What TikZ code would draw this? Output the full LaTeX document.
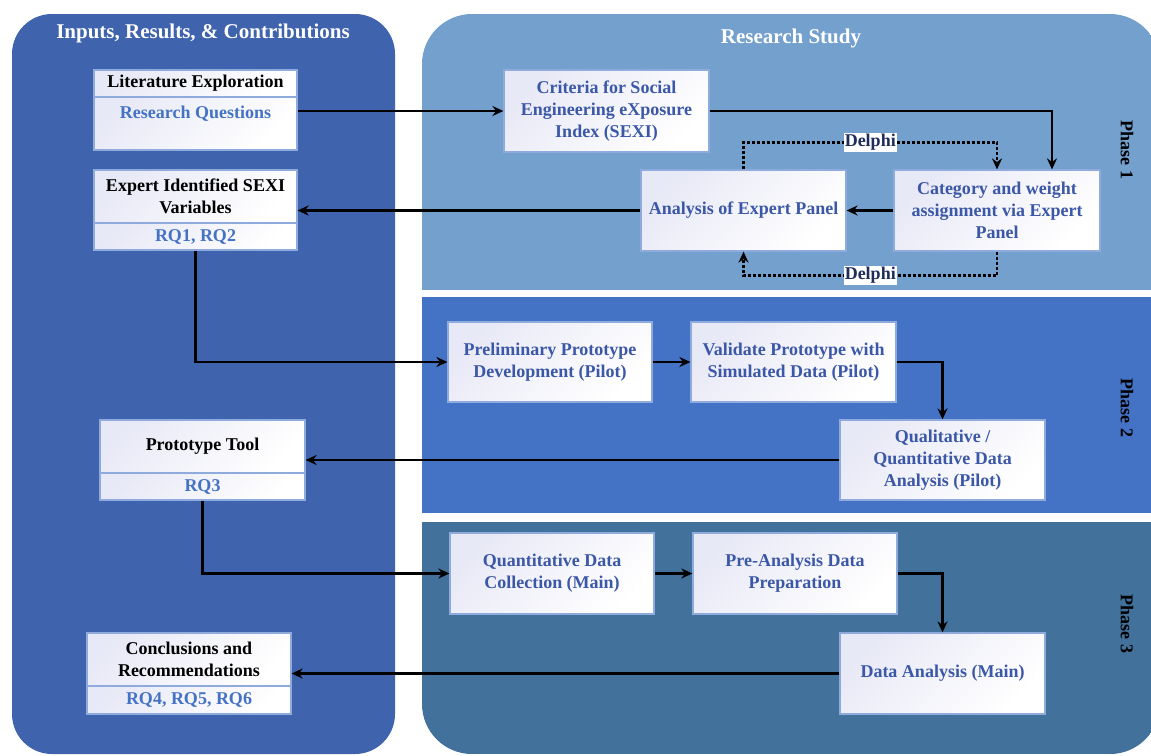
\documentclass[tikz,border=0pt]{standalone}
\usepackage{fontspec}
\setmainfont{Liberation Serif}
\usetikzlibrary{arrows.meta}
\definecolor{inputblue}{HTML}{3F63AC}
\definecolor{phaseone}{HTML}{74A0CE}
\definecolor{phasetwo}{HTML}{4472C4}
\definecolor{phasethree}{HTML}{42719C}
\definecolor{rqblue}{HTML}{4472C4}
\definecolor{boxtext}{HTML}{3B57A7}
\definecolor{boxedge}{HTML}{8FAADC}
\definecolor{boxtint}{HTML}{E8E9F6}
\definecolor{delphitext}{HTML}{1F2D5C}
\tikzset{
  bigfont/.style={font=\fontsize{18}{22}\selectfont\bfseries},
  titlefont/.style={font=\fontsize{21}{25}\selectfont\bfseries, text=white},
  stepbox/.style={bigfont, draw=boxedge, line width=1.2pt, top color=boxtint,
    bottom color=white, shading angle=45, text=boxtext, align=center,
    minimum width=205pt, minimum height=81pt, inner sep=0pt},
  headbox/.style={stepbox, text=black, minimum height=53pt},
  rqbox/.style={stepbox, text=rqblue, minimum height=27pt},
  flow/.style={line width=2.6pt, -{Stealth[length=11pt,width=10pt]}},
  delphi/.style={line width=2.3pt, dash pattern=on 3pt off 2pt,
    -{Stealth[length=11pt,width=10pt]}},
  delphilabel/.style={bigfont, fill=white, text=delphitext, inner sep=1pt}
}
\begin{document}
\begin{tikzpicture}[x=1pt, y=-1pt]
  \useasboundingbox (0,0) rectangle (1151,755);
  \fill[inputblue, rounded corners=40pt] (12,14) rectangle (395,754);
  \begin{scope}
    \clip[rounded corners=50pt] (422,14) rectangle (1160,754);
    \fill[phaseone] (422,14) rectangle (1160,290);
    \fill[phasetwo] (422,297) rectangle (1160,513);
    \fill[phasethree] (422,522) rectangle (1160,754);
  \end{scope}

  \node[titlefont] (inputsTitle) at (203,33) {Inputs, Results, \& Contributions};
  \node[titlefont] (studyTitle) at (791,38) {Research Study};
  \node[bigfont, rotate=-90] (phaseOne) at (1127,150) {Phase 1};
  \node[bigfont, rotate=-90] (phaseTwo) at (1127,408) {Phase 2};
  \node[bigfont, rotate=-90] (phaseThree) at (1127,624) {Phase 3};

  \node[headbox, minimum width=203pt, minimum height=27pt] (litHead) at (195.5,83.5) {Literature Exploration};
  \node[rqbox, minimum width=203pt, minimum height=53pt] (litBody) at (195.5,123.5) {Research Questions\\ ~};
  \node[headbox, minimum width=203pt] (expHead) at (195.5,196.5) {Expert Identified SEXI\\Variables};
  \node[rqbox, minimum width=203pt] (expBody) at (195.5,236.5) {RQ1, RQ2};
  \node[headbox] (protoHead) at (202.5,446.5) {Prototype Tool};
  \node[rqbox] (protoBody) at (202.5,486.5) {RQ3};
  \node[headbox, minimum width=204pt] (conclHead) at (189,659.5) {Conclusions and\\Recommendations};
  \node[rqbox, minimum width=204pt, minimum height=28pt] (conclBody) at (189,700) {RQ4, RQ5, RQ6};

  \node[stepbox, minimum height=82pt] (criteria) at (606.5,111) {Criteria for Social\\Engineering eXposure\\Index (SEXI)};
  \node[stepbox] (analysis) at (743.5,210.5) {Analysis of Expert Panel};
  \node[stepbox, minimum width=206pt] (category) at (997,210.5) {Category and weight\\assignment via Expert\\Panel};
  \node[stepbox, minimum width=204pt, minimum height=80pt] (prelim) at (550,362) {Preliminary Prototype\\Development (Pilot)};
  \node[stepbox, minimum height=80pt] (validate) at (793.5,362) {Validate Prototype with\\Simulated Data (Pilot)};
  \node[stepbox, minimum height=80pt] (qual) at (942.5,460) {Qualitative /\\Quantitative Data\\Analysis (Pilot)};
  \node[stepbox, minimum width=204pt] (quantColl) at (552,573.5) {Quantitative Data\\Collection (Main)};
  \node[stepbox, minimum width=204pt] (preAnalysis) at (795,573.5) {Pre-Analysis Data\\Preparation};
  \node[stepbox] (dataAnalysis) at (942.5,673.5) {Data Analysis (Main)};

  \begin{scope}[flow]
    \draw (litBody.east |- criteria.west) to (criteria.west);
    \draw (criteria.east) -| ([xshift=55pt]category.north);
    \draw (category.west) to (analysis.east);
    \draw (analysis.west) to (analysis.west -| expHead.east);
    \draw (expBody.south) |- (prelim.west);
    \draw (prelim.east) to (validate.west);
    \draw (validate.east) -| (qual.north);
    \draw (qual.west) to (qual.west -| protoHead.east);
    \draw (protoBody.south) |- (quantColl.west);
    \draw (quantColl.east) to (preAnalysis.west);
    \draw (preAnalysis.east) -| (dataAnalysis.north);
    \draw (dataAnalysis.west) to (dataAnalysis.west -| conclHead.east);
  \end{scope}
  \begin{scope}[delphi]
    \draw (analysis.north) |- node[delphilabel, pos=0.75] (delphiTop) {Delphi}
      ([yshift=27pt]category.north) -- (category.north);
    \draw (category.south) |- node[delphilabel, pos=0.75] (delphiBottom) {Delphi}
      ([yshift=-24pt]analysis.south) -- (analysis.south);
  \end{scope}
\end{tikzpicture}
\end{document}
